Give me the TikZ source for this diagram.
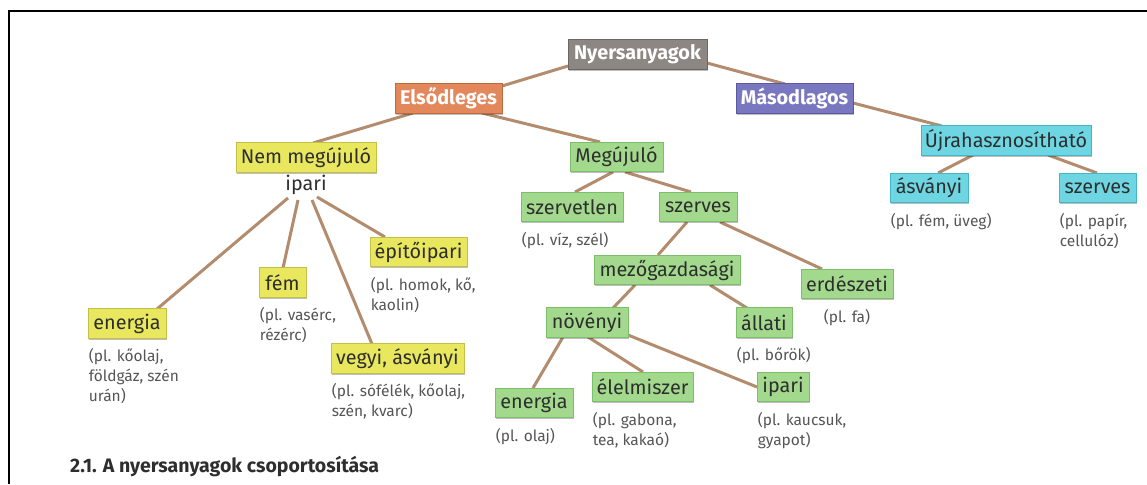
\documentclass[tikz,border=0pt]{standalone}
\usepackage{fontspec}
\setmainfont{Fira Sans}
\usetikzlibrary{calc,shadows,backgrounds}
\definecolor{linec}{HTML}{B38B6D}
\definecolor{grayf}{HTML}{8C8783}\definecolor{grayd}{HTML}{6C6764}
\definecolor{orf}{HTML}{E2885C}\definecolor{ord}{HTML}{BC6A40}
\definecolor{puf}{HTML}{7A77C1}\definecolor{pud}{HTML}{5B58A2}
\definecolor{yef}{HTML}{E9E75E}\definecolor{yed}{HTML}{C2C04A}
\definecolor{grf}{HTML}{A2D98D}\definecolor{grd}{HTML}{7DBE6B}
\definecolor{cyf}{HTML}{6DD6E2}\definecolor{cyd}{HTML}{45B6C5}
\definecolor{txt}{HTML}{2E2E2E}
\definecolor{capc}{HTML}{555555}
\tikzset{
  conn/.style={draw=linec, line width=3pt},
  box/.style={draw, line width=0.8pt, minimum height=29.5pt, inner xsep=3pt, inner ysep=0pt,
    font=\fontsize{19.8}{22}\selectfont, text=txt,
    drop shadow={shadow xshift=1.3pt, shadow yshift=-1.3pt, opacity=0.25, fill=black}},
  topbox/.style={box, text=white, font=\fontsize{19.8}{22}\selectfont\bfseries},
  gbox/.style={topbox, fill=grayf, draw=grayd},
  obox/.style={topbox, fill=orf, draw=ord},
  pbox/.style={topbox, fill=puf, draw=pud},
  ybox/.style={box, fill=yef, draw=yed},
  grbox/.style={box, fill=grf, draw=grd},
  cbox/.style={box, fill=cyf, draw=cyd},
  capt/.style={font=\fontsize{15.5}{20}\selectfont, text=capc, align=left, inner sep=0pt, anchor=north west},
}
\begin{document}
\begin{tikzpicture}[x=1pt,y=-1pt]
\useasboundingbox (0,0) rectangle (1147,484);
\draw[line width=2pt, black] (1147,11) -- (9,11) -- (9,484);

% nodes
\node[gbox, minimum width=139pt] (nyers) at (637.5,54.5) {Nyersanyagok};
\node[obox, minimum width=107pt] (els) at (448.5,98.5) {Elsődleges};
\node[pbox, minimum width=117pt] (mas) at (794.5,98.5) {Másodlagos};
\node[ybox, minimum width=140pt] (nem) at (306,157.5) {Nem megújuló};
\node[font=\fontsize{19.8}{22}\selectfont, text=txt, inner sep=1pt] (ipari) at (306,185) {ipari};
\node[grbox, minimum width=93pt] (meg) at (616.5,157) {Megújuló};
\node[cbox, minimum width=170pt] (ujra) at (1006,140.5) {Újrahasznosítható};
\node[cbox, minimum width=78pt] (asv) at (929,188) {ásványi};
\node[cbox, minimum width=77pt] (szr) at (1097.5,188) {szerves};
\node[grbox, minimum width=102pt] (szvt) at (572,207) {szervetlen};
\node[grbox, minimum width=78pt] (szv) at (698,207) {szerves};
\node[grbox, minimum width=146pt] (mezo) at (667,270) {mezőgazdasági};
\node[grbox, minimum width=92pt] (erd) at (847,284) {erdészeti};
\node[grbox, minimum width=82pt] (nov) at (587,322.5) {növényi};
\node[grbox, minimum width=56pt] (all) at (764,322.5) {állati};
\node[grbox, minimum width=78pt] (en2) at (534,403) {energia};
\node[grbox, minimum width=101pt] (elel) at (642.5,387) {élelmiszer};
\node[grbox, minimum width=52pt] (ip2) at (783,387) {ipari};
\node[ybox, minimum width=78pt] (en1) at (127,323.5) {energia};
\node[ybox, minimum width=47pt] (fem) at (282.5,282.5) {fém};
\node[ybox, minimum width=97pt] (epit) at (418.5,252) {építőipari};
\node[ybox, minimum width=133pt] (vegy) at (397.5,358.5) {vegyi, ásványi};

% captions
\node[capt] (casv) at ($(asv.south west)+(1,10)$) {(pl. fém, üveg)};
\node[capt] (cszr) at ($(szr.south west)+(1,10)$) {(pl. papír,\\cellulóz)};
\node[capt] (cszvt) at ($(szvt.south west)+(1,10)$) {(pl. víz, szél)};
\node[capt, anchor=north] (cerd) at ($(erd.south)+(0,10)$) {(pl. fa)};
\node[capt] (call) at ($(all.south west)+(1,10)$) {(pl. bőrök)};
\node[capt] (cen2) at ($(en2.south west)+(1,10)$) {(pl. olaj)};
\node[capt] (celel) at ($(elel.south west)+(1,10)$) {(pl. gabona,\\tea, kakaó)};
\node[capt] (cip2) at ($(ip2.south west)+(1,10)$) {(pl. kaucsuk,\\gyapot)};
\node[capt] (cen1) at ($(en1.south west)+(1,10)$) {(pl. kőolaj,\\földgáz, szén\\urán)};
\node[capt] (cfem) at ($(fem.south west)+(1,10)$) {(pl. vasérc,\\rézérc)};
\node[capt] (cepit) at ($(epit.south west)+(1,10)$) {(pl. homok, kő,\\kaolin)};
\node[capt] (cvegy) at ($(vegy.south west)+(1,10)$) {(pl. sófélék, kőolaj,\\szén, kvarc)};

\node[anchor=west, inner sep=0pt, text=txt, font=\fontsize{19.5}{22}\selectfont\bfseries] (head) at (70,467) {2.1. A nyersanyagok csoportosítása};

% connectors
\begin{scope}[on background layer]
\draw[conn] ($(nyers)+(-69.5,11.5)$) -- ($(els)+(53.5,-12.5)$);
\draw[conn] ($(nyers)+(69.5,8.5)$) -- ($(mas)+(-9.5,-14.5)$);
\draw[conn] ($(els)+(-35.5,14.5)$) -- ($(nem)+(7,-14.5)$);
\draw[conn] ($(els)+(33.5,14.5)$) -- ($(meg)+(-16.5,-15)$);
\draw[conn] ($(mas)+(58.5,4.5)$) -- ($(ujra)+(-64,-14.5)$);
\draw[conn] ($(ujra)+(-33,14.5)$) -- ($(asv)+(9,-15)$);
\draw[conn] ($(ujra)+(42,14.5)$) -- ($(szr)+(-0.5,-15)$);
\draw[conn] ($(meg)+(-3.5,15)$) -- ($(szvt)+(3,-15)$);
\draw[conn] ($(meg)+(8.5,15)$) -- ($(szv)+(-7,-15)$);
\draw[conn] ($(szv)+(-11,15)$) -- ($(mezo)+(-9,-15)$);
\draw[conn] ($(szv)+(22,15)$) -- ($(erd)+(-25,-15)$);
\draw[conn] ($(mezo)+(-32,15)$) -- ($(nov)+(26,-14.5)$);
\draw[conn] ($(mezo)+(43,15)$) -- ($(all)+(-17,-14.5)$);
\draw[conn] ($(nov)+(-24,14.5)$) -- ($(en2)+(-1,-15)$);
\draw[conn] ($(nov)+(1,14.5)$) -- ($(elel)+(0.5,-15)$);
\draw[conn] ($(nov)+(41,12.5)$) -- ($(ip2)+(-26,0)$);
\draw[conn] ($(ipari)+(-18,13)$) -- ($(en1)+(30,-14.5)$);
\draw[conn] ($(ipari)+(-8,15)$) -- ($(fem)+(0.5,-14.5)$);
\draw[conn] ($(ipari)+(6,15)$) -- ($(vegy)+(-25.5,-14.5)$);
\draw[conn] ($(ipari)+(11,12)$) -- ($(epit)+(-33.5,-15)$);
\end{scope}
\end{tikzpicture}
\end{document}
